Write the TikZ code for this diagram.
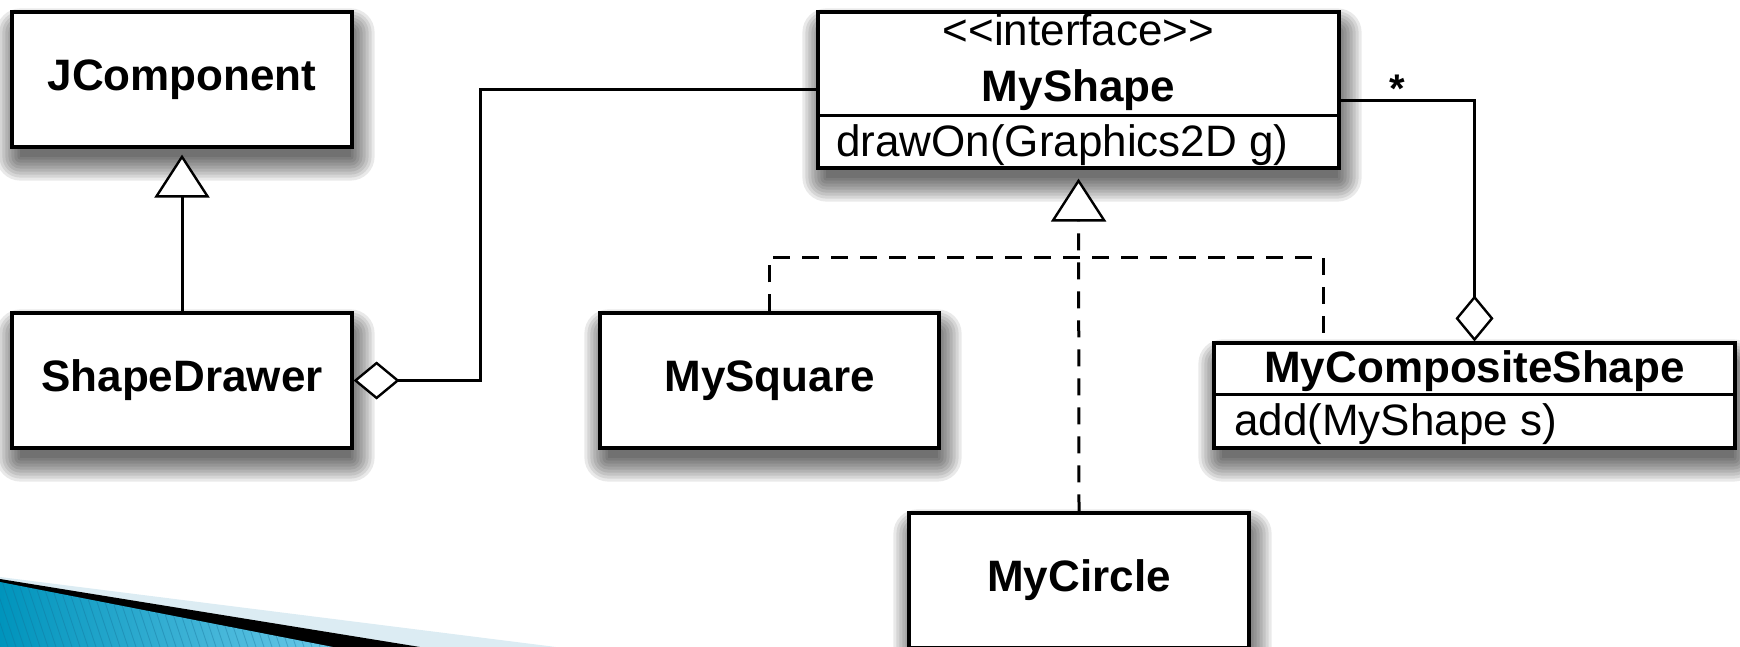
\documentclass[tikz,border=0pt]{standalone}
\usepackage{fontspec}
\setmainfont{Liberation Sans}
\usetikzlibrary{arrows.meta,calc,backgrounds}
\definecolor{lightblu}{RGB}{220,236,243}
\definecolor{tealdark}{RGB}{0,148,188}
\definecolor{teallight}{RGB}{105,200,232}
\definecolor{stripeblu}{RGB}{20,110,150}
\newcommand{\umlshadow}[1]{%
  \foreach \s in {0,3,...,24}{%
    \fill[black, opacity=0.085, rounded corners=\s pt]
      ($(#1.north west)+(10-\s,22-\s)$) rectangle ($(#1.south east)+(\s-3,\s+8)$);
  }}
\tikzset{
  umlbox/.style={draw=black, line width=3.2pt, fill=white, rectangle, inner sep=0pt,
    font=\bfseries\fontsize{44}{50}\selectfont, align=center},
  conn/.style={draw=black, line width=3pt},
  realize/.style={conn, dash pattern=on 17pt off 12pt},
  plaintxt/.style={font=\fontsize{44}{50}\selectfont, inner sep=0pt},
  boldtxt/.style={font=\bfseries\fontsize{44}{50}\selectfont, inner sep=0pt},
  gentip/.tip={Triangle[fill=white, length=43pt, width=55pt, line width=2.4pt]},
  aggtip/.tip={Diamond[fill=white, length=46pt, width=38pt, line width=2.4pt]}
}
\begin{document}
\begin{tikzpicture}[x=1pt, y=-1pt]
\useasboundingbox (0,0) rectangle (1740,647);

% class boxes
\node[umlbox, minimum width=340pt, minimum height=135pt] (jcomp) at (182,79.5) {JComponent};
\node[umlbox, minimum width=340pt, minimum height=135pt] (drawer) at (182,380.5) {ShapeDrawer};
\node[umlbox, minimum width=339pt, minimum height=135pt] (square) at (769.5,380.5) {MySquare};
\node[umlbox, minimum width=340pt, minimum height=135pt] (circle) at (1079,580.5) {MyCircle};
\node[umlbox, minimum width=521pt, minimum height=156pt] (shape) at (1078.5,90) {};
\node[umlbox, minimum width=521pt, minimum height=105pt] (comp) at (1474.5,395.5) {};

% compartments
\draw[conn] ($(shape.north west)+(0,105)$) -- ($(shape.north east)+(0,105)$);
\draw[conn] ($(comp.north west)+(0,53)$) -- ($(comp.north east)+(0,53)$);

% texts of multi-part boxes
\node[plaintxt, anchor=base] (stereo) at (1078.5,46) {{<}{<}interface{>}{>}};
\node[boldtxt, anchor=base] (shapename) at (1078.5,102) {MyShape};
\node[plaintxt, anchor=base west] (drawop) at (836,157) {drawOn(Graphics2D g)};
\node[boldtxt, anchor=base] (compname) at (1474.5,382) {MyCompositeShape};
\node[plaintxt, anchor=base west] (addop) at (1234,435) {add(MyShape s)};

% shadows
\begin{scope}[on background layer]
  \umlshadow{jcomp}
  \umlshadow{drawer}
  \umlshadow{square}
  \umlshadow{circle}
  \umlshadow{shape}
  \umlshadow{comp}
\end{scope}

% connectors
\coordinate (lbend) at (480,0);
\coordinate (rstart) at ($(shape.east)+(0,11)$);
\coordinate (hbar) at (1323,257);
\coordinate (compdash) at (hbar |- comp.north);

\draw[conn, -gentip, shorten >=6pt] (drawer.north) -- (jcomp.south);
\draw[conn, aggtip-] (drawer.east) -- (drawer.east -| lbend) |- (shape.west);
\draw[conn, -aggtip] (rstart) -| (comp.north);
\node[boldtxt, anchor=base, font=\bfseries\fontsize{40}{44}\selectfont] (mult) at (1397,103) {*};

\draw[realize, -gentip, shorten >=9pt] (circle.north) -- (shape.south);
\draw[realize] (square.north) |- (hbar) -- (compdash);

% slide decoration
\fill[lightblu] (0,577) -- (556,647) -- (0,647) -- cycle;
\fill[black] (0,579) -- (420,647) -- (0,647) -- cycle;
\shade[left color=tealdark, right color=teallight] (0,582) -- (333,647) -- (0,647) -- cycle;
\begin{scope}
  \clip (0,582) -- (333,647) -- (0,647) -- cycle;
  \foreach \x in {-40,-32,...,340}
    \draw[stripeblu, opacity=0.35, line width=0.8pt] (\x,575) -- ++(25,75);
\end{scope}
\end{tikzpicture}
\end{document}
